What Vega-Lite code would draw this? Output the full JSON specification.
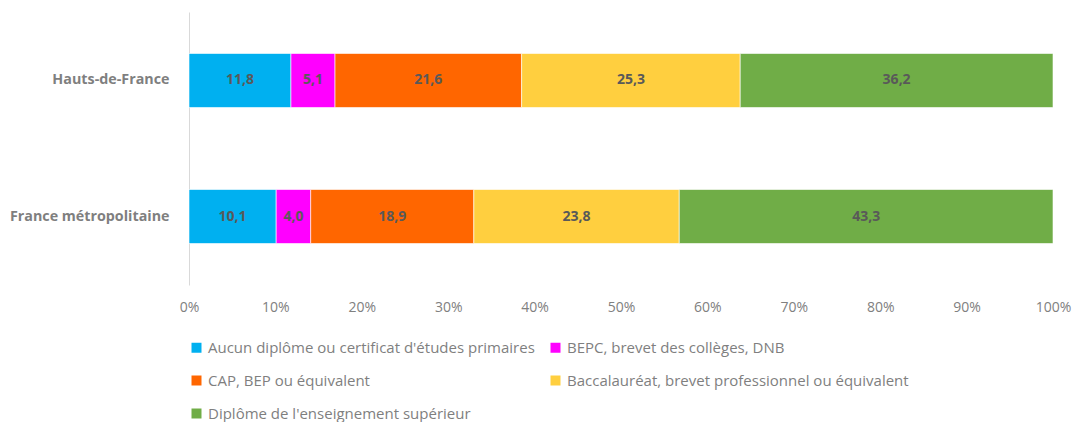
{
  "$schema": "https://vega.github.io/schema/vega-lite/v6.json",
  "autosize": "none",
  "width": 864,
  "height": 273,
  "padding": {"left": 189, "top": 12, "right": 23, "bottom": 137},
  "background": "white",
  "config": {
    "locale": {"number": {"decimal": ",", "thousands": " ", "grouping": [3], "currency": ["", " €"]}},
    "view": {"stroke": null},
    "font": "Open Sans"
  },
  "data": {
    "values": [
      {"region": "Hauts-de-France", "diplome": "Aucun diplôme ou certificat d'études primaires", "ordre": 1, "valeur": 11.8},
      {"region": "Hauts-de-France", "diplome": "BEPC, brevet des collèges, DNB", "ordre": 2, "valeur": 5.1},
      {"region": "Hauts-de-France", "diplome": "CAP, BEP ou équivalent", "ordre": 3, "valeur": 21.6},
      {"region": "Hauts-de-France", "diplome": "Baccalauréat, brevet professionnel ou équivalent", "ordre": 4, "valeur": 25.3},
      {"region": "Hauts-de-France", "diplome": "Diplôme de l'enseignement supérieur", "ordre": 5, "valeur": 36.2},
      {"region": "France métropolitaine", "diplome": "Aucun diplôme ou certificat d'études primaires", "ordre": 1, "valeur": 10.1},
      {"region": "France métropolitaine", "diplome": "BEPC, brevet des collèges, DNB", "ordre": 2, "valeur": 4.0},
      {"region": "France métropolitaine", "diplome": "CAP, BEP ou équivalent", "ordre": 3, "valeur": 18.9},
      {"region": "France métropolitaine", "diplome": "Baccalauréat, brevet professionnel ou équivalent", "ordre": 4, "valeur": 23.8},
      {"region": "France métropolitaine", "diplome": "Diplôme de l'enseignement supérieur", "ordre": 5, "valeur": 43.3}
    ]
  },
  "transform": [
    {"stack": "valeur", "groupby": ["region"], "sort": [{"field": "ordre", "order": "ascending"}], "offset": "normalize", "as": ["x0", "x1"]},
    {"calculate": "(datum.x0 + datum.x1) / 2", "as": "xm"}
  ],
  "encoding": {
    "y": {
      "field": "region", "type": "nominal",
      "sort": ["Hauts-de-France", "France métropolitaine"],
      "scale": {"paddingInner": 0.603, "paddingOuter": 0.305},
      "axis": {
        "title": null, "ticks": false, "domain": true, "domainColor": "#d9d9d9", "domainWidth": 1,
        "labelFont": "Open Sans", "labelFontSize": 14.3, "labelFontWeight": "bold", "labelColor": "#7f7f7f",
        "labelPadding": 20
      }
    }
  },
  "layer": [
    {
      "mark": {"type": "bar", "stroke": "white", "strokeWidth": 0.6},
      "encoding": {
        "x": {
          "field": "x0", "type": "quantitative",
          "scale": {"domain": [0, 1]},
          "axis": {
            "title": null, "format": ".0%", "values": [0, 0.1, 0.2, 0.3, 0.4, 0.5, 0.6, 0.7, 0.8, 0.9, 1],
            "grid": false, "domain": false, "ticks": false, "labelOverlap": false, "labelFlush": false,
            "labelFont": "Open Sans", "labelFontSize": 14, "labelColor": "#808080", "labelPadding": 15
          }
        },
        "x2": {"field": "x1"},
        "color": {
          "field": "diplome", "type": "nominal",
          "scale": {
            "domain": ["Aucun diplôme ou certificat d'études primaires", "BEPC, brevet des collèges, DNB", "CAP, BEP ou équivalent", "Baccalauréat, brevet professionnel ou équivalent", "Diplôme de l'enseignement supérieur"],
            "range": ["#00b0f0", "#ff00ff", "#ff6600", "#ffcf3f", "#70ad47"]
          },
          "legend": {
            "title": null, "orient": "bottom", "direction": "horizontal", "columns": 2,
            "symbolType": "square", "symbolSize": 100, "symbolStrokeWidth": 0,
            "labelFont": "Open Sans", "labelFontSize": 15, "labelColor": "#7f7f7f",
            "labelLimit": 500, "rowPadding": 17, "columnPadding": 13, "labelOffset": 4,
            "offset": 26, "padding": 0
          }
        }
      }
    },
    {
      "mark": {"type": "text", "font": "Open Sans", "fontSize": 14, "fontWeight": "bold", "color": "#595959"},
      "encoding": {
        "x": {"field": "xm", "type": "quantitative"},
        "text": {"field": "valeur", "type": "quantitative", "format": ".1f"}
      }
    }
  ]
}
